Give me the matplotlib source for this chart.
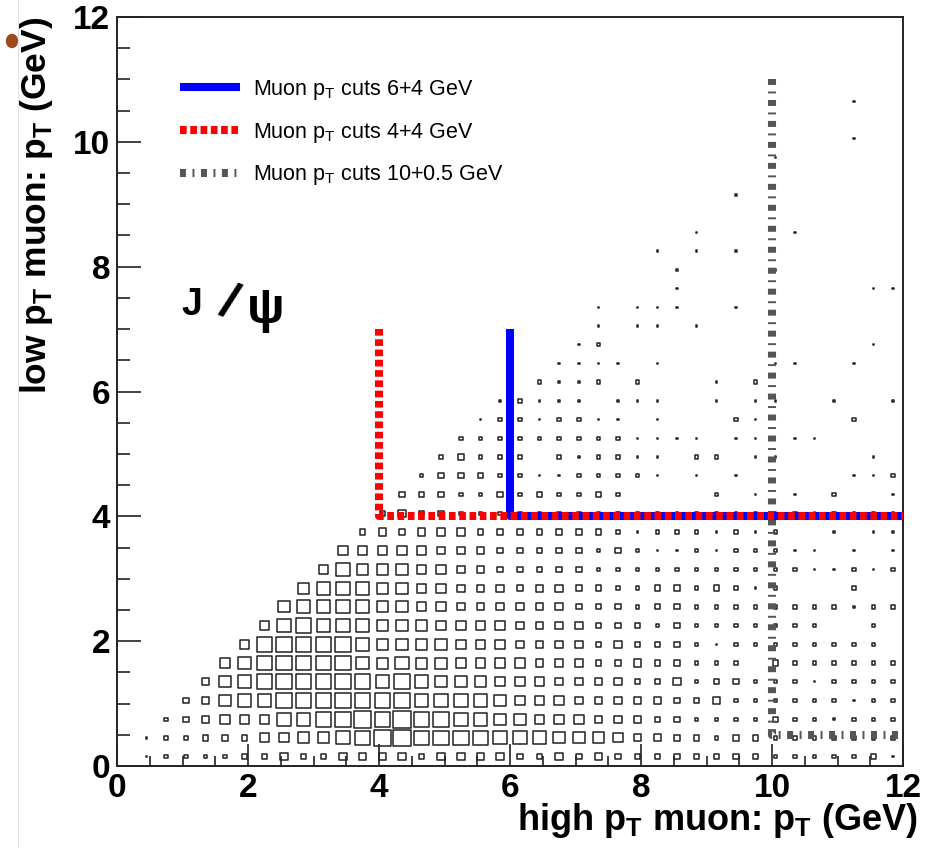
import numpy as np
import matplotlib
matplotlib.use("Agg")
import matplotlib.pyplot as plt
from matplotlib.patches import Rectangle, Ellipse
from matplotlib.collections import PatchCollection
from matplotlib.lines import Line2D

plt.rcParams['font.family'] = ['Liberation Sans', 'DejaVu Sans']
plt.rcParams['mathtext.fontset'] = 'custom'
plt.rcParams['mathtext.rm'] = 'Liberation Sans'
plt.rcParams['mathtext.bf'] = 'Liberation Sans:bold'
plt.rcParams['lines.scale_dashes'] = False

# 40 x 40 bins of 0.3 GeV, one string per low-pT row (row 0 = 0-0.3 GeV),
# each digit is the bin content on a 0-10 box scale
n_bins = 40
pt_max = 12.0
box_rows = [
    "0122223343" "3444434444" "3343433333" "3332222231",
    "0122333556" "6789988887" "7766654433" "2332222222",
    "0023455577" "8898988776" "6555444332" "2223221222",
    "0003467788" "8888877776" "5554444433" "4222222122",
    "0000467888" "8887876665" "5544443342" "3322212222",
    "0000057888" "8876766555" "5444334332" "2203222222",
    "0000005888" "8876666555" "4444343332" "1222222220",
    "0000000578" "7776665555" "4444333232" "2222220020",
    "0000000067" "7776655444" "4443332332" "2222222122",
    "0000000006" "7776655444" "3443322332" "3212000200",
    "0000000000" "5766655443" "3333222222" "2222211212",
    "0000000000" "0555554443" "3333232112" "1222110101",
    "0000000000" "0034344433" "3333321222" "1212001011",
    "0000000000" "0003433222" "2222222212" "2121212121",
    "0000000000" "0000333223" "2322320000" "2010102001",
    "0000000000" "0000023332" "2112222101" "0100000112",
    "0000000000" "0000002322" "2021221102" "2011000010",
    "0000000000" "0000000222" "2222221111" "0110110000",
    "0000000000" "0000000012" "2122110100" "0210000200",
    "0000000000" "0000000001" "2111011100" "1011001001",
    "0000000000" "0000000000" "0211202000" "1020000000",
    "0000000000" "0000000000" "0011110100" "0001100100",
    "0000000000" "0000000000" "0001200000" "0000000010",
    "0000000000" "0000000000" "0000101101" "0000000000",
    "0000000000" "0000000000" "0000101110" "0100000000",
    "0000000000" "0000000000" "0000000010" "0000000011",
    "0000000000" "0000000000" "0000000010" "0001000000",
    "0000000000" "0000000000" "0000000101" "0100000000",
    "0000000000" "0000000000" "0000000001" "0000100000",
    "0000000000" "0000000000" "0000000000" "0000000000",
    "0000000000" "0000000000" "0000000000" "0100000000",
    "0000000000" "0000000000" "0000000000" "0000000000",
    "0000000000" "0000000000" "0000000000" "0001000000",
    "0000000000" "0000000000" "0000000000" "0000000100",
    "0000000000" "0000000000" "0000000000" "0000000000",
    "0000000000" "0000000000" "0000000000" "0000000100",
]

# trigger thresholds (high pT, low pT) drawn as cut lines
cut_64_x = [6, 6, 12]
cut_64_y = [7, 4, 4]
cut_44_x = [4, 4, 12]
cut_44_y = [7, 4, 4]
cut_105_x = [10, 10, 12]
cut_105_y = [11, 0.5, 0.5]
cut_labels = [r"Muon p$_{\mathregular{T}}$ cuts 6+4 GeV",
              r"Muon p$_{\mathregular{T}}$ cuts 4+4 GeV",
              r"Muon p$_{\mathregular{T}}$ cuts 10+0.5 GeV"]

counts = np.zeros((n_bins, n_bins))
for j, row in enumerate(box_rows):
    counts[j, :] = [int(c) for c in row]

edges = np.linspace(0, pt_max, n_bins + 1)
centers = 0.5 * (edges[:-1] + edges[1:])
bw = edges[1] - edges[0]

fig = plt.figure(figsize=(9.25, 8.48), dpi=100)
ax = fig.add_axes([117 / 925, 1 - 766 / 848, 786 / 925, 749 / 848])

# ROOT-style "BOX" drawing: box side proportional to bin content
boxes = []
for j in range(n_bins):
    for i in range(n_bins):
        c = counts[j, i]
        if c <= 0:
            continue
        s = bw * (0.102 * c - 0.025)
        boxes.append(Rectangle((centers[i] - s / 2, centers[j] - s / 2), s, s))
ax.add_collection(PatchCollection(boxes, facecolor='none', edgecolor='#222222',
                                  linewidth=1.1, zorder=1))

l105, = ax.plot(cut_105_x, cut_105_y, color='#555555', lw=5.8,
                dashes=(4.3, 4.7, 1.4, 4.7), dash_capstyle='butt', zorder=2)
l64, = ax.plot(cut_64_x, cut_64_y, color='#0000ff', lw=5.8,
               solid_capstyle='butt', zorder=3)
l44, = ax.plot(cut_44_x, cut_44_y, color='#ff0000', lw=5.8,
               dashes=(4.8, 2.6), dash_capstyle='butt', zorder=4)

ax.legend([l64, l44, l105], cut_labels, loc='upper left',
          bbox_to_anchor=(0.0802, 0.9187), frameon=False, fontsize=15.5,
          handlelength=2.79, handletextpad=0.6, labelspacing=0.87,
          borderpad=0, borderaxespad=0)

# resonance label, letters placed one by one
ax.text(0.99, 7.23, "J", fontsize=27, fontweight='bold', ha='left', va='baseline')
ax.text(1.695, 7.42, "/", fontsize=36, fontweight='bold', ha='center', va='center',
        rotation=-22, rotation_mode='anchor')
ax.text(1.98, 7.09, "ψ", fontsize=36, fontweight='bold', ha='left', va='baseline')

ax.set_xlim(0, pt_max)
ax.set_ylim(0, pt_max)
ax.set_xticks(np.arange(0, 13, 2))
ax.set_yticks(np.arange(0, 13, 2))
ax.set_xticks(np.arange(0, 12.01, 0.5), minor=True)
ax.set_yticks(np.arange(0, 12.01, 0.5), minor=True)
ax.tick_params(axis='both', which='both', direction='in', colors='#222222',
               width=1.2, labelcolor='black', labelsize=24, pad=5)
ax.tick_params(axis='x', which='major', length=15.8)
ax.tick_params(axis='x', which='minor', length=7.2)
ax.tick_params(axis='y', which='major', length=17.3)
ax.tick_params(axis='y', which='minor', length=9.1)
for lab in ax.get_xticklabels() + ax.get_yticklabels():
    lab.set_fontweight('bold')
for sp in ax.spines.values():
    sp.set_linewidth(1.4)
    sp.set_color('#222222')

ax.set_xlabel(r"high p$_{\mathbf{T}}$ muon: p$_{\mathbf{T}}$ (GeV)",
              fontsize=26, fontweight='bold', ha='right')
ax.xaxis.set_label_coords(1.019, -0.0854)
ax.xaxis.label.set_va('baseline')
ax.set_ylabel(r"low p$_{\mathbf{T}}$ muon: p$_{\mathbf{T}}$ (GeV)",
              fontsize=25.5, fontweight='bold', ha='right')
ax.yaxis.set_label_coords(-0.0903, 1.0)
ax.yaxis.label.set_va('baseline')

# page edge and small mark at the top left
fig.add_artist(Line2D([18 / 925, 18 / 925], [0, 1], color='#e4e4e4', lw=0.8))
fig.add_artist(Ellipse((12 / 925, 1 - 41 / 848), 11 / 925, 13 / 848,
                       color='#9a4a1c'))

fig.savefig("out.png", dpi=100)
